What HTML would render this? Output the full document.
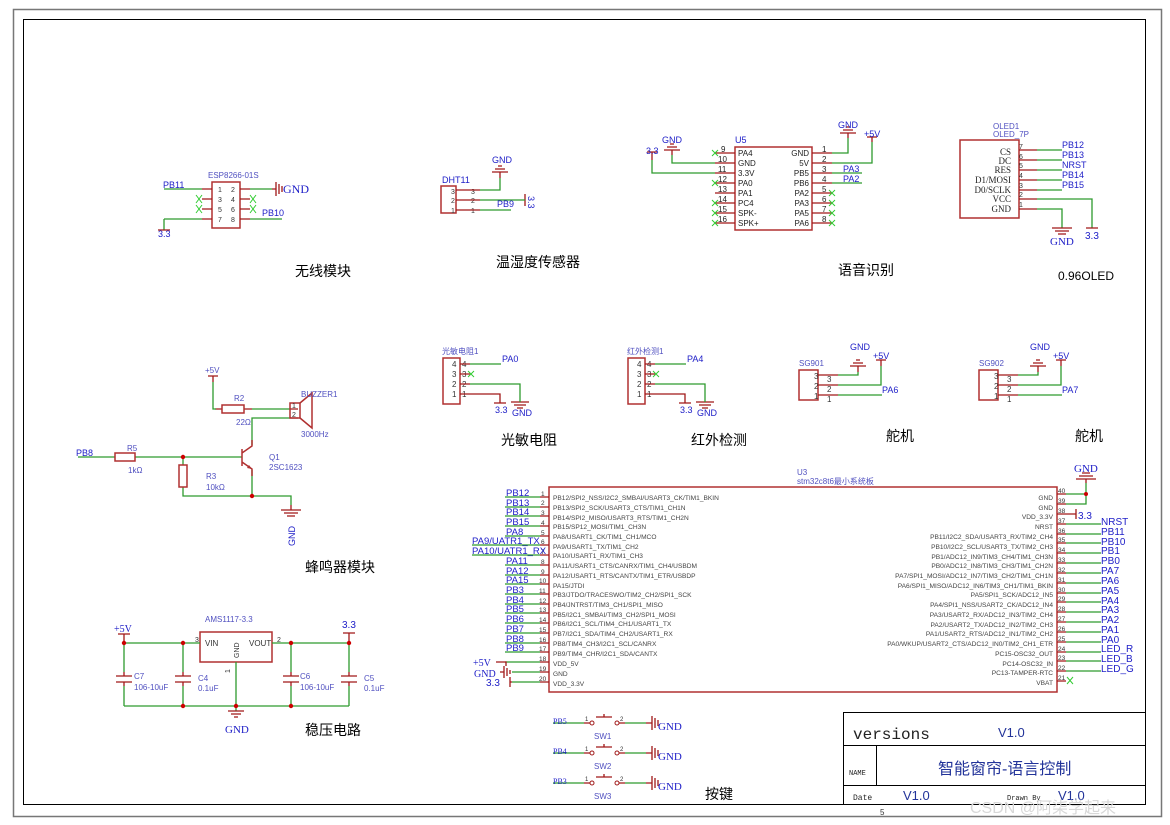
<!DOCTYPE html>
<html><head><meta charset="utf-8"><style>
html,body{margin:0;padding:0;background:#fff}
svg{display:block;font-family:"Liberation Sans","Noto Sans CJK SC",sans-serif}
.w{stroke:#2e9a2e;stroke-width:1.3;fill:none}
.p{stroke:#a01818;stroke-width:1.3;fill:none}
.b{stroke:#b03030;stroke-width:1.5;fill:none}
.bl{fill:#2020c8;font-size:10px}
.sb{fill:#5050c0;font-size:8px}
.t{fill:#333;font-size:7px}
.tk{fill:#111;font-size:9px}
.cn{fill:#000;font-size:14px}
.x{stroke:#3c3;stroke-width:1}
.d{fill:#c00}
</style></head><body>
<svg width="1170" height="825" viewBox="0 0 1170 825" xmlns="http://www.w3.org/2000/svg">
<rect x="13.5" y="9.5" width="1148" height="807" fill="none" stroke="#777" stroke-width="1.5"/>
<rect x="23.5" y="19.5" width="1122" height="785" fill="none" stroke="#000" stroke-width="1"/>
<text x="880" y="815" class="t" style="font-size:8px">5</text>

<text x="208" y="178" class="sb">ESP8266-01S</text>
<rect x="212" y="182" width="28" height="46" class="b"/>
<g class="t"><text x="218" y="192">1</text><text x="231" y="192">2</text><text x="218" y="202">3</text><text x="231" y="202">4</text><text x="218" y="212">5</text><text x="231" y="212">6</text><text x="218" y="222">7</text><text x="231" y="222">8</text></g>
<path class="p" d="M202 189H212M202 199H212M202 209H212M202 219H212M240 189H250M240 199H250M240 209H250M240 219H250"/>
<path class="w" d="M164 189H202M164 219H202M164 219V230M250 189H272M250 219H282"/>
<path class="x" d="M196 195l6 8M196 203l6-8M196 205l6 8M196 213l6-8M250 195l6 8M250 203l6-8M250 205l6 8M250 213l6-8"/>
<path class="p" d="M272 189H276M276 182V196M279 184V194M282 186V192M158 230H170"/>
<text x="163" y="188" class="bl" style="font-size:9px">PB11</text>
<text x="283" y="193" class="bl" style="font-family:'Liberation Serif',serif;font-size:12px">GND</text>
<text x="262" y="216" class="bl" style="font-size:9px">PB10</text>
<text x="158" y="237" class="bl" style="font-size:9px">3.3</text>
<text x="295" y="276" class="cn">无线模块</text>

<text x="442" y="183" class="bl" style="font-size:9px">DHT11</text>
<rect x="441" y="186" width="15" height="27" class="b"/>
<g class="t"><text x="451" y="194">3</text><text x="451" y="203">2</text><text x="451" y="213">1</text><text x="471" y="194">3</text><text x="471" y="203">2</text><text x="471" y="213">1</text></g>
<path class="p" d="M456 190H480M456 200H480M456 210H480M525 194V206"/>
<path class="w" d="M480 190H500V178M480 200H525M480 210H511"/>
<path class="p" d="M500 178V172M492 172H508M495 169H505M498 166H502"/>
<text x="492" y="163" class="bl" style="font-size:9px">GND</text>
<text x="497" y="207" class="bl" style="font-size:9px">PB9</text>
<text x="528" y="196" class="bl" style="font-size:9px" transform="rotate(90 528 196)">3.3</text>
<text x="496" y="267" class="cn">温湿度传感器</text>

<text x="735" y="143" class="bl" style="font-size:9px">U5</text>
<rect x="735" y="147" width="77" height="83" class="b"/>
<g class="t" style="font-size:8px;fill:#222">
<text x="738" y="156">PA4</text><text x="738" y="166">GND</text><text x="738" y="176">3.3V</text><text x="738" y="186">PA0</text><text x="738" y="196">PA1</text><text x="738" y="206">PC4</text><text x="738" y="216">SPK-</text><text x="738" y="226">SPK+</text>
<text x="809" y="156" text-anchor="end">GND</text><text x="809" y="166" text-anchor="end">5V</text><text x="809" y="176" text-anchor="end">PB5</text><text x="809" y="186" text-anchor="end">PB6</text><text x="809" y="196" text-anchor="end">PA2</text><text x="809" y="206" text-anchor="end">PA3</text><text x="809" y="216" text-anchor="end">PA5</text><text x="809" y="226" text-anchor="end">PA6</text>
<text x="721" y="152">9</text><text x="718" y="162">10</text><text x="718" y="172">11</text><text x="718" y="182">12</text><text x="718" y="192">13</text><text x="718" y="202">14</text><text x="718" y="212">15</text><text x="718" y="222">16</text>
<text x="822" y="152">1</text><text x="822" y="162">2</text><text x="822" y="172">3</text><text x="822" y="182">4</text><text x="822" y="192">5</text><text x="822" y="202">6</text><text x="822" y="212">7</text><text x="822" y="222">8</text>
</g>
<path class="p" d="M715 153H735M715 163H735M715 173H735M715 183H735M715 193H735M715 203H735M715 213H735M715 223H735M812 153H832M812 163H832M812 173H832M812 183H832M812 193H832M812 203H832M812 213H832M812 223H832"/>
<path class="w" d="M672 155V163H715M652 160V173H715M832 153H848V138M832 163H872V142M832 173H862M832 183H862"/>
<path class="x" d="M712 150l6 6M712 156l6-6M712 180l6 6M712 186l6-6M712 200l6 6M712 206l6-6M712 210l6 6M712 216l6-6M712 220l6 6M712 226l6-6M829 190l6 6M829 196l6-6M829 200l6 6M829 206l6-6M829 210l6 6M829 216l6-6M829 220l6 6M829 226l6-6"/>
<path class="p" d="M672 155V150M664 150H680M667 147H677M670 144H674M652 160V152M647 152H657M848 138V133M840 133H856M843 130H853M846 127H850M872 142V137M867 137H877"/>
<text x="662" y="143" class="bl" style="font-size:9px">GND</text>
<text x="646" y="154" class="bl" style="font-size:9px">3.3</text>
<text x="838" y="128" class="bl" style="font-size:9px">GND</text>
<text x="864" y="137" class="bl" style="font-size:9px">+5V</text>
<text x="843" y="172" class="bl" style="font-size:9px">PA3</text>
<text x="843" y="182" class="bl" style="font-size:9px">PA2</text>
<text x="838" y="275" class="cn">语音识别</text>

<text x="993" y="129" class="sb">OLED1</text>
<text x="993" y="137" class="sb">OLED_7P</text>
<rect x="960" y="140" width="59" height="78" class="b"/>
<g style="font-family:'Liberation Serif',serif;font-size:9px;fill:#222" text-anchor="end">
<text x="1011" y="155">CS</text><text x="1011" y="164">DC</text><text x="1011" y="173">RES</text><text x="1011" y="183">D1/MOSI</text><text x="1011" y="193">D0/SCLK</text><text x="1011" y="202">VCC</text><text x="1011" y="212">GND</text></g>
<g class="t"><text x="1019" y="149">7</text><text x="1019" y="159">6</text><text x="1019" y="168">5</text><text x="1019" y="178">4</text><text x="1019" y="188">3</text><text x="1019" y="197">2</text><text x="1019" y="207">1</text></g>
<path class="p" d="M1019 150H1037M1019 160H1037M1019 170H1037M1019 180H1037M1019 190H1037M1019 199H1037M1019 209H1037"/>
<path class="w" d="M1037 150H1062M1037 160H1062M1037 170H1062M1037 180H1062M1037 190H1062M1037 199H1092V228M1037 209H1062V228"/>
<path class="p" d="M1052 228H1072M1055 231H1069M1058 234H1066M1086 228H1098"/>
<g class="bl" style="font-size:9px"><text x="1062" y="148">PB12</text><text x="1062" y="158">PB13</text><text x="1062" y="168">NRST</text><text x="1062" y="178">PB14</text><text x="1062" y="188">PB15</text></g>
<text x="1050" y="245" class="bl" style="font-family:'Liberation Serif',serif;font-size:11px">GND</text>
<text x="1085" y="239" class="bl">3.3</text>
<text x="1058" y="280" class="cn" style="font-size:12px">0.96OLED</text>

<g>
<text x="442" y="354" class="sb">光敏电阻1</text>
<rect x="443" y="358" width="17" height="46" class="b"/>
<g class="t" style="font-size:8px"><text x="452" y="367">4</text><text x="452" y="377">3</text><text x="452" y="387">2</text><text x="452" y="397">1</text><text x="462" y="367">4</text><text x="462" y="377">3</text><text x="462" y="387">2</text><text x="462" y="397">1</text></g>
<path class="p" d="M460 364H470M460 374H470M460 384H470M460 394H500V403M494 403H506M511 402H529M514 405H526M517 408H523"/>
<path class="w" d="M470 364H501M470 384H520V402"/>
<path class="x" d="M468 371l6 6M468 377l6-6"/>
<text x="502" y="362" class="bl" style="font-size:9px">PA0</text>
<text x="495" y="413" class="bl" style="font-size:9px">3.3</text>
<text x="512" y="416" class="bl" style="font-size:9px">GND</text>
</g>
<g transform="translate(185 0)">
<rect x="443" y="358" width="17" height="46" class="b"/>
<g class="t" style="font-size:8px"><text x="452" y="367">4</text><text x="452" y="377">3</text><text x="452" y="387">2</text><text x="452" y="397">1</text><text x="462" y="367">4</text><text x="462" y="377">3</text><text x="462" y="387">2</text><text x="462" y="397">1</text></g>
<path class="p" d="M460 364H470M460 374H470M460 384H470M460 394H500V403M494 403H506M511 402H529M514 405H526M517 408H523"/>
<path class="w" d="M470 364H501M470 384H520V402"/>
<path class="x" d="M468 371l6 6M468 377l6-6"/>
<text x="502" y="362" class="bl" style="font-size:9px">PA4</text>
<text x="495" y="413" class="bl" style="font-size:9px">3.3</text>
<text x="512" y="416" class="bl" style="font-size:9px">GND</text>
</g>
<text x="627" y="354" class="sb">红外检测1</text>
<text x="501" y="445" class="cn">光敏电阻</text>
<text x="691" y="445" class="cn">红外检测</text>

<g>
<text x="799" y="366" class="sb">SG901</text>
<rect x="799" y="370" width="19" height="30" class="b"/>
<g class="t" style="font-size:8px"><text x="814" y="379">3</text><text x="814" y="389">2</text><text x="814" y="399">1</text><text x="827" y="382">3</text><text x="827" y="392">2</text><text x="827" y="402">1</text></g>
<path class="p" d="M818 375H838M818 385H838M818 395H838M858 372V366M850 366H866M853 363H863M856 360H860M881 366V360M876 360H886"/>
<path class="w" d="M838 375H858V372M838 385H881V366M838 395H882"/>
<text x="850" y="350" class="bl" style="font-size:9px">GND</text><text x="873" y="359" class="bl" style="font-size:9px">+5V</text><text x="882" y="393" class="bl" style="font-size:9px">PA6</text>
</g>
<g transform="translate(180 0)">
<text x="799" y="366" class="sb">SG902</text>
<rect x="799" y="370" width="19" height="30" class="b"/>
<g class="t" style="font-size:8px"><text x="814" y="379">3</text><text x="814" y="389">2</text><text x="814" y="399">1</text><text x="827" y="382">3</text><text x="827" y="392">2</text><text x="827" y="402">1</text></g>
<path class="p" d="M818 375H838M818 385H838M818 395H838M858 372V366M850 366H866M853 363H863M856 360H860M881 366V360M876 360H886"/>
<path class="w" d="M838 375H858V372M838 385H881V366M838 395H882"/>
<text x="850" y="350" class="bl" style="font-size:9px">GND</text><text x="873" y="359" class="bl" style="font-size:9px">+5V</text><text x="882" y="393" class="bl" style="font-size:9px">PA7</text>
</g>
<text x="886" y="441" class="cn">舵机</text>
<text x="1075" y="441" class="cn">舵机</text>

<text x="205" y="373" class="sb">+5V</text>
<path class="p" d="M208 376H218M213 376V382M244 409H252M222 409H215M290 409H298M290 418H298"/>
<path class="w" d="M213 382V409H216M252 409H290M252 445V418H290M78 457H115M135 457H242M183 457V465M183 487V496H291V505M252 470V496"/>
<rect x="222" y="405" width="22" height="8" class="b"/>
<text x="234" y="401" class="sb">R2</text><text x="236" y="425" class="sb">22Ω</text>
<rect x="290" y="403" width="10" height="15" class="b"/>
<path class="b" d="M300 403L312 393V428L300 418"/>
<text x="292" y="408" class="t" style="font-size:7px">1</text><text x="292" y="417" class="t" style="font-size:7px">2</text>
<text x="301" y="397" class="sb">BUZZER1</text><text x="301" y="437" class="sb">3000Hz</text>
<rect x="115" y="453" width="20" height="8" class="b"/>
<text x="127" y="451" class="sb">R5</text><text x="128" y="473" class="sb">1kΩ</text>
<text x="76" y="456" class="bl" style="font-size:9px">PB8</text>
<rect x="179" y="465" width="8" height="22" class="b"/>
<text x="206" y="479" class="sb">R3</text><text x="206" y="490" class="sb">10kΩ</text>
<path class="b" d="M242 449V466M242 453L252 446V440M242 462L252 469V476"/>
<path d="M252 469l-5 -1 2-3z" fill="#b03030"/>
<circle cx="183" cy="457" r="2.2" class="d"/><circle cx="252" cy="496" r="2.2" class="d"/>
<path class="p" d="M281 510H301M284 513H298M287 516H295M291 505V510"/>
<text x="295" y="546" class="bl" style="font-size:9px" transform="rotate(-90 295 546)">GND</text>
<text x="269" y="460" class="sb">Q1</text><text x="269" y="470" class="sb">2SC1623</text>
<text x="305" y="572" class="cn">蜂鸣器模块</text>

<text x="205" y="622" class="sb">AMS1117-3.3</text>
<rect x="200" y="632" width="72" height="30" class="b"/>
<text x="205" y="646" class="t" style="font-size:8px">VIN</text><text x="249" y="646" class="t" style="font-size:8px">VOUT</text>
<text x="239" y="658" class="t" style="font-size:7px" transform="rotate(-90 239 658)">GND</text>
<text x="195" y="642" class="t">3</text><text x="277" y="642" class="t">2</text><text x="230" y="673" class="t" transform="rotate(-90 230 673)">1</text>
<path class="w" d="M124 643H200M272 643H349M124 706H349M124 643V672M183 643V672M291 643V672M349 643V672M124 686V706M183 686V706M291 686V706M349 686V706M236 662V711"/>
<path class="p" d="M116 676H132M116 682H132M175 676H191M175 682H191M283 676H299M283 682H299M341 676H357M341 682H357M124 672V676M124 682V686M183 672V676M183 682V686M291 672V676M291 682V686M349 672V676M349 682V686M118 634H130M124 634V643M343 633H355M349 633V643M228 711H244M231 714H241M234 717H238"/>
<g class="d"><circle cx="124" cy="643" r="2.2"/><circle cx="183" cy="643" r="2.2"/><circle cx="291" cy="643" r="2.2"/><circle cx="349" cy="643" r="2.2"/><circle cx="183" cy="706" r="2.2"/><circle cx="236" cy="706" r="2.2"/><circle cx="291" cy="706" r="2.2"/></g>
<text x="114" y="632" class="bl" style="font-family:'Liberation Serif',serif">+5V</text>
<text x="342" y="628" class="bl">3.3</text>
<text x="225" y="733" class="bl" style="font-family:'Liberation Serif',serif;font-size:11px">GND</text>
<g class="sb"><text x="134" y="679">C7</text><text x="134" y="690">106-10uF</text><text x="198" y="681">C4</text><text x="198" y="691">0.1uF</text><text x="300" y="679">C6</text><text x="300" y="690">106-10uF</text><text x="364" y="681">C5</text><text x="364" y="691">0.1uF</text></g>
<text x="305" y="735" class="cn">稳压电路</text>

<text x="797" y="475" class="sb">U3</text>
<text x="797" y="484" class="sb">stm32c8t6最小系统板</text>
<rect x="549" y="487" width="508" height="205" class="b"/>
<g class="t" style="font-size:6.6px;fill:#444">
<text x="553" y="500">PB12/SPI2_NSS/I2C2_SMBAI/USART3_CK/TIM1_BKIN</text>
<text x="553" y="510">PB13/SPI2_SCK/USART3_CTS/TIM1_CH1N</text>
<text x="553" y="520">PB14/SPI2_MISO/USART3_RTS/TIM1_CH2N</text>
<text x="553" y="529">PB15/SP12_MOSI/TIM1_CH3N</text>
<text x="553" y="539">PA8/USART1_CK/TIM1_CH1/MCO</text>
<text x="553" y="549">PA9/USART1_TX/TIM1_CH2</text>
<text x="553" y="558">PA10/USART1_RX/TIM1_CH3</text>
<text x="553" y="568">PA11/USART1_CTS/CANRX/TIM1_CH4/USBDM</text>
<text x="553" y="578">PA12/USART1_RTS/CANTX/TIM1_ETR/USBDP</text>
<text x="553" y="588">PA15/JTDI</text>
<text x="553" y="597">PB3/JTDO/TRACESWO/TIM2_CH2/SPI1_SCK</text>
<text x="553" y="607">PB4/JNTRST/TIM3_CH1/SPI1_MISO</text>
<text x="553" y="617">PB5/I2C1_SMBAI/TIM3_CH2/SPI1_MOSI</text>
<text x="553" y="626">PB6/I2C1_SCL/TIM4_CH1/USART1_TX</text>
<text x="553" y="636">PB7/I2C1_SDA/TIM4_CH2/USART1_RX</text>
<text x="553" y="646">PB8/TIM4_CH3/I2C1_SCL/CANRX</text>
<text x="553" y="656">PB9/TIM4_CHR/I2C1_SDA/CANTX</text>
<text x="553" y="666">VDD_5V</text>
<text x="553" y="676">GND</text>
<text x="553" y="686">VDD_3.3V</text>
</g>
<g class="t" style="font-size:6.6px;fill:#444" text-anchor="end">
<text x="1053" y="500">GND</text><text x="1053" y="510">GND</text><text x="1053" y="519">VDD_3.3V</text><text x="1053" y="529">NRST</text>
<text x="1053" y="539">PB11/I2C2_SDA/USART3_RX/TIM2_CH4</text>
<text x="1053" y="549">PB10/I2C2_SCL/USART3_TX/TIM2_CH3</text>
<text x="1053" y="559">PB1/ADC12_IN9/TIM3_CH4/TIM1_CH3N</text>
<text x="1053" y="568">PB0/ADC12_IN8/TIM3_CH3/TIM1_CH2N</text>
<text x="1053" y="578">PA7/SPI1_MOSI/ADC12_IN7/TIM3_CH2/TIM1_CH1N</text>
<text x="1053" y="588">PA6/SPI1_MISO/ADC12_IN6/TIM3_CH1/TIM1_BKIN</text>
<text x="1053" y="597">PA5/SPI1_SCK/ADC12_IN5</text>
<text x="1053" y="607">PA4/SPI1_NSS/USART2_CK/ADC12_IN4</text>
<text x="1053" y="617">PA3/USART2_RX/ADC12_IN3/TIM2_CH4</text>
<text x="1053" y="627">PA2/USART2_TX/ADC12_IN2/TIM2_CH3</text>
<text x="1053" y="636">PA1/USART2_RTS/ADC12_IN1/TIM2_CH2</text>
<text x="1053" y="646">PA0/WKUP/USART2_CTS/ADC12_IN0/TIM2_CH1_ETR</text>
<text x="1053" y="656">PC15-OSC32_OUT</text>
<text x="1053" y="666">PC14-OSC32_IN</text>
<text x="1053" y="675">PC13-TAMPER-RTC</text>
<text x="1053" y="685">VBAT</text>
</g>
<path class="p" d="M540 497H549M540 507H549M540 516H549M540 526H549M540 536H549M540 545H549M540 555H549M540 565H549M540 575H549M540 584H549M540 594H549M540 604H549M540 613H549M540 623H549M540 633H549M540 643H549M540 652H549M540 662H549M540 672H549M540 682H549"/>
<path class="w" d="M505 497H540M505 507H540M505 516H540M505 526H540M505 536H540M472 545H540M472 555H540M505 565H540M505 575H540M505 584H540M505 594H540M505 604H540M505 613H540M505 623H540M505 633H540M505 643H540M505 652H540M505 662H540M512 672H540M512 682H540"/>
<g class="t" style="font-size:6.5px"><text x="541" y="496">1</text><text x="541" y="505">2</text><text x="541" y="515">3</text><text x="541" y="525">4</text><text x="541" y="535">5</text><text x="541" y="544">6</text><text x="541" y="554">7</text><text x="541" y="564">8</text><text x="541" y="574">9</text><text x="539" y="583">10</text><text x="539" y="593">11</text><text x="539" y="603">12</text><text x="539" y="612">13</text><text x="539" y="622">14</text><text x="539" y="632">15</text><text x="539" y="642">16</text><text x="539" y="651">17</text><text x="539" y="661">18</text><text x="539" y="671">19</text><text x="539" y="681">20</text></g>
<g class="bl" style="font-size:9.5px">
<text x="506" y="496">PB12</text><text x="506" y="506">PB13</text><text x="506" y="515">PB14</text><text x="506" y="525">PB15</text><text x="506" y="535">PA8</text>
<text x="472" y="544">PA9/UATR1_TX</text><text x="472" y="554">PA10/UATR1_RX</text>
<text x="506" y="564">PA11</text><text x="506" y="574">PA12</text><text x="506" y="583">PA15</text><text x="506" y="593">PB3</text><text x="506" y="603">PB4</text><text x="506" y="612">PB5</text><text x="506" y="622">PB6</text><text x="506" y="632">PB7</text><text x="506" y="642">PB8</text><text x="506" y="651">PB9</text>
</g>
<path class="p" d="M496 662H506V666M500 672H504M504 666V678M507 668V676M510 670V674M510 682H512M510 677V687"/>
<text x="473" y="666" class="bl" style="font-family:'Liberation Serif',serif">+5V</text>
<text x="474" y="677" class="bl" style="font-family:'Liberation Serif',serif">GND</text>
<text x="486" y="686" class="bl">3.3</text>
<path class="p" d="M1057 494H1066M1057 504H1066M1057 514H1066M1057 524H1066M1057 534H1066M1057 543H1066M1057 553H1066M1057 563H1066M1057 573H1066M1057 583H1066M1057 593H1066M1057 602H1066M1057 612H1066M1057 622H1066M1057 632H1066M1057 642H1066M1057 652H1066M1057 661H1066M1057 671H1066M1057 681H1066M1066 514H1076M1076 509V519"/>
<path class="w" d="M1066 494H1086M1066 504H1086V483M1066 524H1101M1066 534H1101M1066 543H1101M1066 553H1101M1066 563H1101M1066 573H1101M1066 583H1101M1066 593H1101M1066 602H1101M1066 612H1101M1066 622H1101M1066 632H1101M1066 642H1101M1066 652H1101M1066 661H1101M1066 671H1101"/>
<path class="x" d="M1067 677l6 7M1067 684l6-7"/>
<circle cx="1086" cy="494" r="2" class="d"/>
<path class="p" d="M1086 483V479M1076 479H1096M1079 476H1093M1082 473H1090"/>
<text x="1074" y="472" class="bl" style="font-family:'Liberation Serif',serif;font-size:11px">GND</text>
<text x="1078" y="519" class="bl">3.3</text>
<g class="t" style="font-size:6.5px"><text x="1058" y="493">40</text><text x="1058" y="503">39</text><text x="1058" y="513">38</text><text x="1058" y="523">37</text><text x="1058" y="533">36</text><text x="1058" y="542">35</text><text x="1058" y="552">34</text><text x="1058" y="562">33</text><text x="1058" y="572">32</text><text x="1058" y="582">31</text><text x="1058" y="592">30</text><text x="1058" y="601">29</text><text x="1058" y="611">28</text><text x="1058" y="621">27</text><text x="1058" y="631">26</text><text x="1058" y="641">25</text><text x="1058" y="651">24</text><text x="1058" y="660">23</text><text x="1058" y="670">22</text><text x="1058" y="680">21</text></g>
<g class="bl" style="font-size:10px">
<text x="1101" y="525">NRST</text><text x="1101" y="535">PB11</text><text x="1101" y="545">PB10</text><text x="1101" y="554">PB1</text><text x="1101" y="564">PB0</text><text x="1101" y="574">PA7</text><text x="1101" y="584">PA6</text><text x="1101" y="594">PA5</text><text x="1101" y="604">PA4</text><text x="1101" y="613">PA3</text><text x="1101" y="623">PA2</text><text x="1101" y="633">PA1</text><text x="1101" y="643">PA0</text><text x="1101" y="652">LED_R</text><text x="1101" y="662">LED_B</text><text x="1101" y="672">LED_G</text>
</g>

<g id="sw">
<path class="w" d="M553 723H584M625 723H646"/>
<path class="p" d="M584 723H590M619 723H625M646 723H652M652 716V730M655 718V728M658 720V726M596 717H612M604 714V717"/>
<circle cx="592" cy="723" r="2" fill="none" stroke="#a01818"/><circle cx="617" cy="723" r="2" fill="none" stroke="#a01818"/>
<text x="585" y="721" class="t" style="font-size:6px">1</text><text x="620" y="721" class="t" style="font-size:6px">2</text>
<text x="658" y="730" class="bl" style="font-family:'Liberation Serif',serif;font-size:11px">GND</text>
</g>
<use href="#sw" y="30"/><use href="#sw" y="60"/>
<g class="bl" style="font-family:'Liberation Serif',serif;font-size:8px"><text x="553" y="724">PB5</text><text x="553" y="754">PB4</text><text x="553" y="784">PB3</text></g>
<g class="sb"><text x="594" y="739">SW1</text><text x="594" y="769">SW2</text><text x="594" y="799">SW3</text></g>
<text x="705" y="799" class="cn">按键</text>

<rect x="843.5" y="712.5" width="302" height="92" fill="none" stroke="#000"/>
<path d="M843 745.5H1146M843 785.5H1146M876.5 745V785" stroke="#000" fill="none"/>
<text x="853" y="739" style="font-family:'Liberation Mono',monospace;font-size:16px;fill:#222">versions</text>
<text x="998" y="737" class="bl" style="font-size:13px;fill:#223399">V1.0</text>
<text x="849" y="775" style="font-family:'Liberation Mono',monospace;font-size:7px;fill:#222">NAME</text>
<text x="938" y="774" style="font-size:16px;fill:#223399">智能窗帘-语言控制</text>
<text x="853" y="800" style="font-family:'Liberation Mono',monospace;font-size:8px;fill:#222">Date</text>
<text x="903" y="800" style="font-size:13px;fill:#223399">V1.0</text>
<text x="1007" y="800" style="font-family:'Liberation Mono',monospace;font-size:7px;fill:#222">Drawn By</text>
<text x="1058" y="800" style="font-size:13px;fill:#223399">V1.0</text>
<text x="970" y="813" style="font-size:16px;fill:#d8d8d8">CSDN @阿柒学起来</text>
</svg>
</body></html>
